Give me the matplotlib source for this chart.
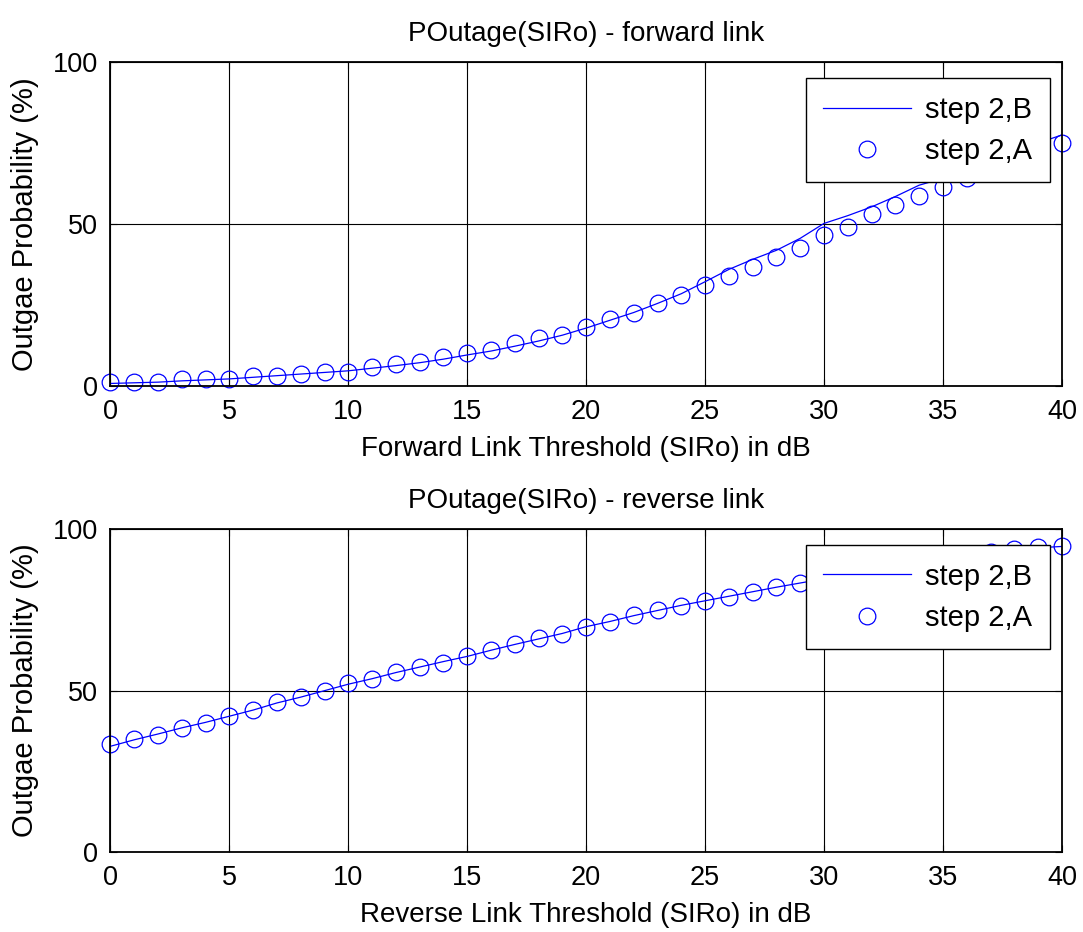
import numpy as np
import matplotlib
matplotlib.use('Agg')
import matplotlib.pyplot as plt

plt.rcParams['font.family'] = ['Liberation Sans', 'DejaVu Sans']

# threshold (dB)
siro = np.arange(0, 41)

# forward link: step 2,B (line) and step 2,A (markers)
fwd_B = [0.8, 1.0, 1.2, 1.6, 1.9, 2.2, 2.7, 3.2, 3.7, 4.2, 4.7, 5.5, 6.3, 7.2, 8.3,
         9.6, 10.8, 12.3, 13.9, 15.7, 17.9, 20.3, 22.7, 25.5, 28.5, 32.2, 36.0, 39.1,
         41.9, 45.6, 50.2, 52.6, 55.3, 58.5, 62.0, 64.1, 66.8, 69.6, 72.3, 75.0, 77.5]
fwd_A = [1.3, 1.3, 1.3, 2.2, 2.2, 2.2, 3.1, 3.1, 3.7, 4.4, 4.4, 6.0, 6.8, 7.5, 9.0,
         10.3, 11.1, 13.2, 14.7, 15.7, 18.3, 20.6, 22.4, 25.5, 28.1, 31.2, 34.0, 36.8,
         39.9, 42.5, 46.6, 49.2, 53.1, 55.9, 58.7, 61.5, 64.3, 66.8, 69.5, 72.2, 74.9]

# reverse link
rev_B = [32.8, 34.8, 36.6, 38.5, 40.2, 42.1, 44.0, 46.2, 48.0, 50.0, 52.0, 53.7, 55.6,
         57.3, 59.0, 60.6, 62.5, 64.3, 66.0, 67.7, 69.8, 71.4, 73.2, 74.8, 76.4, 77.8,
         79.2, 80.6, 82.0, 83.3, 84.6, 85.9, 87.1, 88.3, 89.5, 90.6, 91.7, 92.7, 93.6,
         94.2, 94.6]
rev_A = [33.5, 35.0, 36.3, 38.4, 39.9, 42.2, 44.0, 46.6, 48.1, 50.0, 52.3, 53.5, 55.9,
         57.4, 58.6, 60.7, 62.6, 64.4, 66.2, 67.5, 69.7, 71.3, 73.4, 74.9, 76.2, 77.7,
         78.9, 80.6, 82.2, 83.4, 84.6, 85.8, 87.0, 88.2, 89.4, 90.6, 91.8, 93.0, 93.8,
         94.3, 94.6]

panels = [
    ('POutage(SIRo) - forward link', 'Forward Link Threshold (SIRo) in dB', fwd_B, fwd_A),
    ('POutage(SIRo) - reverse link', 'Reverse Link Threshold (SIRo) in dB', rev_B, rev_A),
]

fig = plt.figure(figsize=(10.83, 9.32), dpi=100)
rects = [[0.102, 0.5858, 0.8785, 0.3476], [0.102, 0.0855, 0.8785, 0.3469]]

for rect, (title, xlabel, yb, ya) in zip(rects, panels):
    ax = fig.add_axes(rect)
    ax.plot(siro, yb, color='#0000ff', lw=0.9, label='step 2,B')
    ax.plot(siro, ya, 'o', color='#0000ff', mfc='none', ms=12, mew=0.9,
            label='step 2,A', clip_on=False)
    ax.set_xlim(0, 40)
    ax.set_ylim(0, 100)
    ax.set_xticks(np.arange(0, 41, 5))
    ax.set_yticks([0, 50, 100])
    ax.grid(True, color='black', lw=0.8)
    ax.set_axisbelow(True)
    for s in ax.spines.values():
        s.set_linewidth(1.3)
    ax.tick_params(direction='in', top=True, right=True, length=5, labelsize=19.5, pad=9)
    ax.set_title(title, fontsize=20, pad=15)
    ax.set_xlabel(xlabel, fontsize=20, labelpad=8)
    ax.set_ylabel('Outgae Probability (%)', fontsize=21, labelpad=10)
    leg = ax.legend(loc='upper right', bbox_to_anchor=(0.9874, 0.95), borderaxespad=0,
                    fontsize=21, fancybox=False, edgecolor='black', framealpha=1,
                    handlelength=3.0, handletextpad=0.5, labelspacing=0.45,
                    borderpad=0.6)
    leg.get_frame().set_linewidth(1.0)

fig.savefig('out.png', dpi=100)
